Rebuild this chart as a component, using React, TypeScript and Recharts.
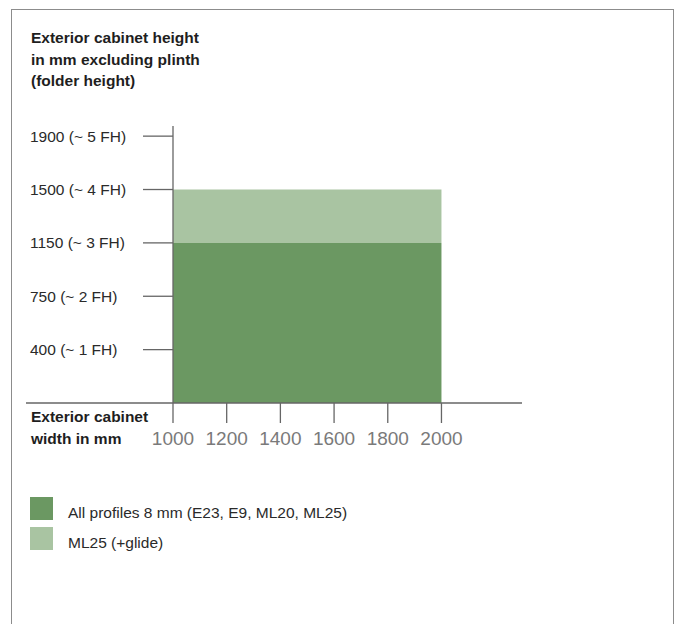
import { Area, ComposedChart, XAxis, YAxis } from "recharts";

// cabinet widths covered by the ranges (mm)
const widths = [1000, 2000];
const widthTicks = [1000, 1200, 1400, 1600, 1800, 2000];

// height axis is stepped in folder heights (FH), not linear mm
const fhLevels = [1, 2, 3, 4, 5];
const fhLabels = [
  "400 (~ 1 FH)",
  "750 (~ 2 FH)",
  "1150 (~ 3 FH)",
  "1500 (~ 4 FH)",
  "1900 (~ 5 FH)",
];

// max height per width, in FH (stacked: base range + extra for glide)
const allProfilesFh = [3, 3];
const ml25ExtraFh = [1, 1];

const seriesNames = ["All profiles 8 mm (E23, E9, ML20, ML25)", "ML25 (+glide)"];
const seriesColors = ["#6b9862", "#a9c4a2"];

const W = 677;
const H = 624;
const PLOT_LEFT = 173;
const PLOT_TOP = 126;
const PLOT_RIGHT = 522;
const PLOT_BOTTOM = 403;
const Y_AXIS_W = 150;
const X_AXIS_H = 40;

const FONT = "'Liberation Sans', Arial, sans-serif";
const AXIS = "#666";

const rows = widths.map((w, i) => ({
  width: w,
  all: allProfilesFh[i],
  glide: ml25ExtraFh[i],
}));

function HeightTick(props: any) {
  const { y, payload } = props;
  const v = payload.value as number;
  if (v === 0) {
    // x axis line runs on to the left under the axis title
    return <line x1={26} x2={PLOT_LEFT} y1={y} y2={y} stroke={AXIS} strokeWidth={1.3} />;
  }
  const idx = fhLevels.indexOf(v);
  return (
    <g>
      <line x1={143} x2={PLOT_LEFT} y1={y} y2={y} stroke={AXIS} strokeWidth={1.3} />
      <text x={30} y={y} dy={5.6} textAnchor="start" fontSize={15.5} fontFamily={FONT} fill="#2a2a2a">
        {fhLabels[idx]}
      </text>
    </g>
  );
}

function WidthTick(props: any) {
  const { x, payload } = props;
  return (
    <text x={x} y={445} textAnchor="middle" fontSize={19} fontFamily={FONT} fill="#7a7a7a">
      {payload.value}
    </text>
  );
}

const textBlock = {
  position: "absolute" as const,
  fontFamily: FONT,
  fontSize: 15.5,
  lineHeight: "21.5px",
  whiteSpace: "nowrap" as const,
};

export default function App() {
  return (
    <div style={{ position: "absolute", left: 0, top: 0, width: W, height: H, overflow: "hidden", background: "#fff" }}>
      <div
        style={{
          position: "absolute",
          left: 11,
          top: 9,
          width: 663,
          height: 700,
          border: "1px solid #8c8c8c",
          boxSizing: "border-box",
        }}
      />
      <div style={{ ...textBlock, left: 31, top: 27, fontWeight: 700, color: "#1e1e1e" }}>
        Exterior cabinet height
        <br />
        in mm excluding plinth
        <br />
        (folder height)
      </div>
      <div style={{ ...textBlock, left: 31, top: 406, fontWeight: 700, color: "#1e1e1e" }}>
        Exterior cabinet
        <br />
        width in mm
      </div>

      <div style={{ position: "absolute", left: 0, top: 0 }}>
        <ComposedChart
          width={W}
          height={H}
          data={rows}
          margin={{
            top: PLOT_TOP,
            right: W - PLOT_RIGHT,
            bottom: H - PLOT_BOTTOM - X_AXIS_H,
            left: PLOT_LEFT - Y_AXIS_W,
          }}
        >
          <XAxis
            type="number"
            dataKey="width"
            domain={[1000, 2300]}
            allowDataOverflow
            ticks={widthTicks}
            height={X_AXIS_H}
            tickSize={20}
            axisLine={{ stroke: AXIS, strokeWidth: 1.3 }}
            tickLine={{ stroke: AXIS, strokeWidth: 1.3 }}
            tick={(p: any) => <WidthTick {...p} />}
          />
          <YAxis
            type="number"
            domain={[0, 5.19]}
            allowDataOverflow
            ticks={[0, ...fhLevels]}
            width={Y_AXIS_W}
            tickLine={false}
            axisLine={{ stroke: AXIS, strokeWidth: 1.3 }}
            tick={(p: any) => <HeightTick {...p} />}
          />
          <Area
            type="linear"
            dataKey="all"
            stackId="h"
            stroke="none"
            fill={seriesColors[0]}
            fillOpacity={1}
            dot={false}
            activeDot={false}
            isAnimationActive={false}
          />
          <Area
            type="linear"
            dataKey="glide"
            stackId="h"
            stroke="none"
            fill={seriesColors[1]}
            fillOpacity={1}
            dot={false}
            activeDot={false}
            isAnimationActive={false}
          />
        </ComposedChart>
      </div>

      {seriesNames.map((name, i) => (
        <div key={name}>
          <div
            style={{
              position: "absolute",
              left: 30,
              top: 497 + i * 30,
              width: 23,
              height: 23,
              background: seriesColors[i],
            }}
          />
          <div style={{ ...textBlock, left: 68, top: 502 + i * 30, color: "#2a2a2a" }}>{name}</div>
        </div>
      ))}
    </div>
  );
}
